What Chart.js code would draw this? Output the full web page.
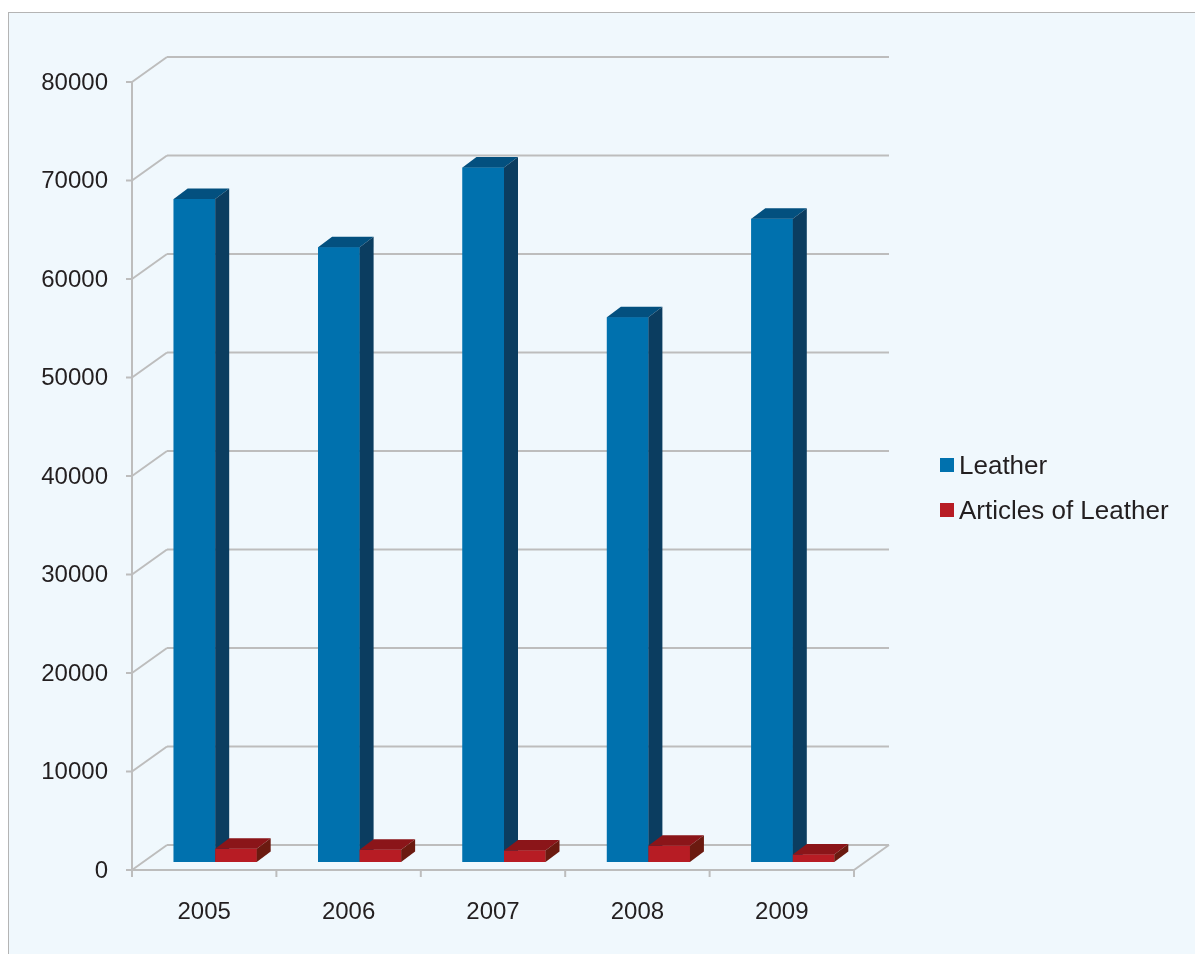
<!DOCTYPE html>
<html>
<head>
<meta charset="utf-8">
<script src="https://cdn.jsdelivr.net/npm/chart.js@4.4.1/dist/chart.umd.min.js"></script>
<style>
  html, body { margin: 0; padding: 0; background: #fff; overflow: hidden; }
  #frame {
    position: absolute; left: 8px; top: 12px; width: 1200px; height: 960px;
    background: #f0f8fd; border: 1px solid #b4b4b4;
  }
  #wrap { position: absolute; left: 0; top: 0; width: 1195px; height: 954px; }
</style>
</head>
<body>
<div id="frame"></div>
<div id="wrap"><canvas id="lienzo" width="1195" height="954"></canvas></div>
<script>
// chart values
var years = ['2005', '2006', '2007', '2008', '2009'];
var leather = [67300, 62400, 70500, 55300, 65300];
var articles = [1350, 1250, 1180, 1650, 750];
var yTicks = [0, 10000, 20000, 30000, 40000, 50000, 60000, 70000, 80000];

var front = { dx: -11, dy: 8 };   // front plane offset from the bar plane
var back = { dx: 24, dy: -17 };   // back wall offset
var depth = { dx: 14, dy: -10.5 }; // bar depth

var colores = [
	{ front: '#0071ae', top: '#03507f', side: '#0b3d60' },
	{ front: '#b71c24', top: '#8b1519', side: '#6b1a10' }
];

var gridColor = '#bdbdbd';
var textColor = '#231f20';

function line(ctx, x1, y1, x2, y2) {
	ctx.beginPath();
	ctx.moveTo(x1, y1);
	ctx.lineTo(x2, y2);
	ctx.stroke();
}

function poly(ctx, pts, color) {
	ctx.beginPath();
	ctx.moveTo(pts[0][0], pts[0][1]);
	for (var i = 1; i < pts.length; i++) ctx.lineTo(pts[i][0], pts[i][1]);
	ctx.closePath();
	ctx.fillStyle = color;
	ctx.fill();
}

var walls = {
	id: 'walls',
	beforeDatasetsDraw: function(chart) {
		var ctx = chart.ctx, y = chart.scales.y, x = chart.scales.x, a = chart.chartArea;
		ctx.save();
		ctx.strokeStyle = gridColor;
		ctx.lineWidth = 2;
		ctx.lineCap = 'butt';

		// back wall lines + side diagonals + front ticks
		yTicks.forEach(function(v) {
			var py = y.getPixelForValue(v);
			line(ctx, a.left + back.dx, py + back.dy, a.right + back.dx, py + back.dy);
			line(ctx, a.left + front.dx, py + front.dy, a.left + back.dx, py + back.dy);
			line(ctx, a.left + front.dx - 6, py + front.dy, a.left + front.dx, py + front.dy);
		});

		// front axis and floor
		var y0 = y.getPixelForValue(0);
		var yTop = y.getPixelForValue(yTicks[yTicks.length - 1]);
		line(ctx, a.left + front.dx, yTop + front.dy, a.left + front.dx, y0 + front.dy + 1);
		line(ctx, a.left + front.dx, y0 + front.dy, a.right + front.dx, y0 + front.dy);
		line(ctx, a.right + front.dx, y0 + front.dy, a.right + back.dx, y0 + back.dy);

		// category ticks on the floor
		var step = (a.right - a.left) / years.length;
		for (var i = 0; i <= years.length; i++) {
			var px = a.left + i * step + front.dx;
			line(ctx, px, y0 + front.dy, px, y0 + front.dy + 7);
		}

		// tick labels
		ctx.fillStyle = textColor;
		ctx.font = '24px "Liberation Sans", Arial, sans-serif';
		ctx.textAlign = 'right';
		ctx.textBaseline = 'middle';
		yTicks.forEach(function(v) {
			ctx.fillText(String(v), a.left + front.dx - 24, y.getPixelForValue(v) + front.dy + 1);
		});
		ctx.textAlign = 'center';
		years.forEach(function(lbl, i) {
			ctx.fillText(lbl, x.getPixelForValue(i) + front.dx, y0 + front.dy + 42);
		});

		// legend
		ctx.textAlign = 'left';
		ctx.textBaseline = 'alphabetic';
		ctx.font = '26px "Liberation Sans", Arial, sans-serif';
		chart.data.datasets.forEach(function(ds, i) {
			var ly = 474 + i * 45;
			ctx.fillStyle = ds.backgroundColor;
			ctx.fillRect(940, ly - 16, 14, 14);
			ctx.fillStyle = textColor;
			ctx.fillText(ds.label, 959, ly);
		});
		ctx.restore();
	},
	// 3D faces: blue top/side, then red front again so it sits over the blue side
	afterDatasetsDraw: function(chart) {
		var ctx = chart.ctx;
		ctx.save();
		var m0 = chart.getDatasetMeta(0), m1 = chart.getDatasetMeta(1);
		m0.data.forEach(function(bar0, i) {
			[bar0, m1.data[i]].forEach(function(bar, k) {
				var c = colores[k];
				var p = bar.getProps(['x', 'y', 'base', 'width'], true);
				var l = p.x - p.width / 2, r = p.x + p.width / 2, t = p.y, b = p.base;
				poly(ctx, [[l, t], [r, t], [r, b], [l, b]], c.front);
				poly(ctx, [[l, t], [l + depth.dx, t + depth.dy], [r + depth.dx, t + depth.dy], [r, t]], c.top);
				poly(ctx, [[r, t], [r + depth.dx, t + depth.dy], [r + depth.dx, b + depth.dy], [r, b]], c.side);
			});
		});
		ctx.restore();
	}
};

var lienzo = document.getElementById('lienzo');
var myChart = new Chart(lienzo, {
	type: 'bar',
	data: {
		labels: years,
		datasets: [
			{ label: 'Leather', data: leather, backgroundColor: colores[0].front },
			{ label: 'Articles of Leather', data: articles, backgroundColor: colores[1].front }
		]
	},
	options: {
		responsive: false,
		animation: false,
		layout: { padding: { left: 143, right: 330, top: 74, bottom: 92 } },
		datasets: { bar: { categoryPercentage: 0.575, barPercentage: 1.0 } },
		scales: {
			x: { display: false },
			y: { display: false, min: 0, max: 80000 }
		},
		plugins: {
			legend: { display: false },
			tooltip: { enabled: false }
		}
	},
	plugins: [walls]
});
</script>
</body>
</html>
